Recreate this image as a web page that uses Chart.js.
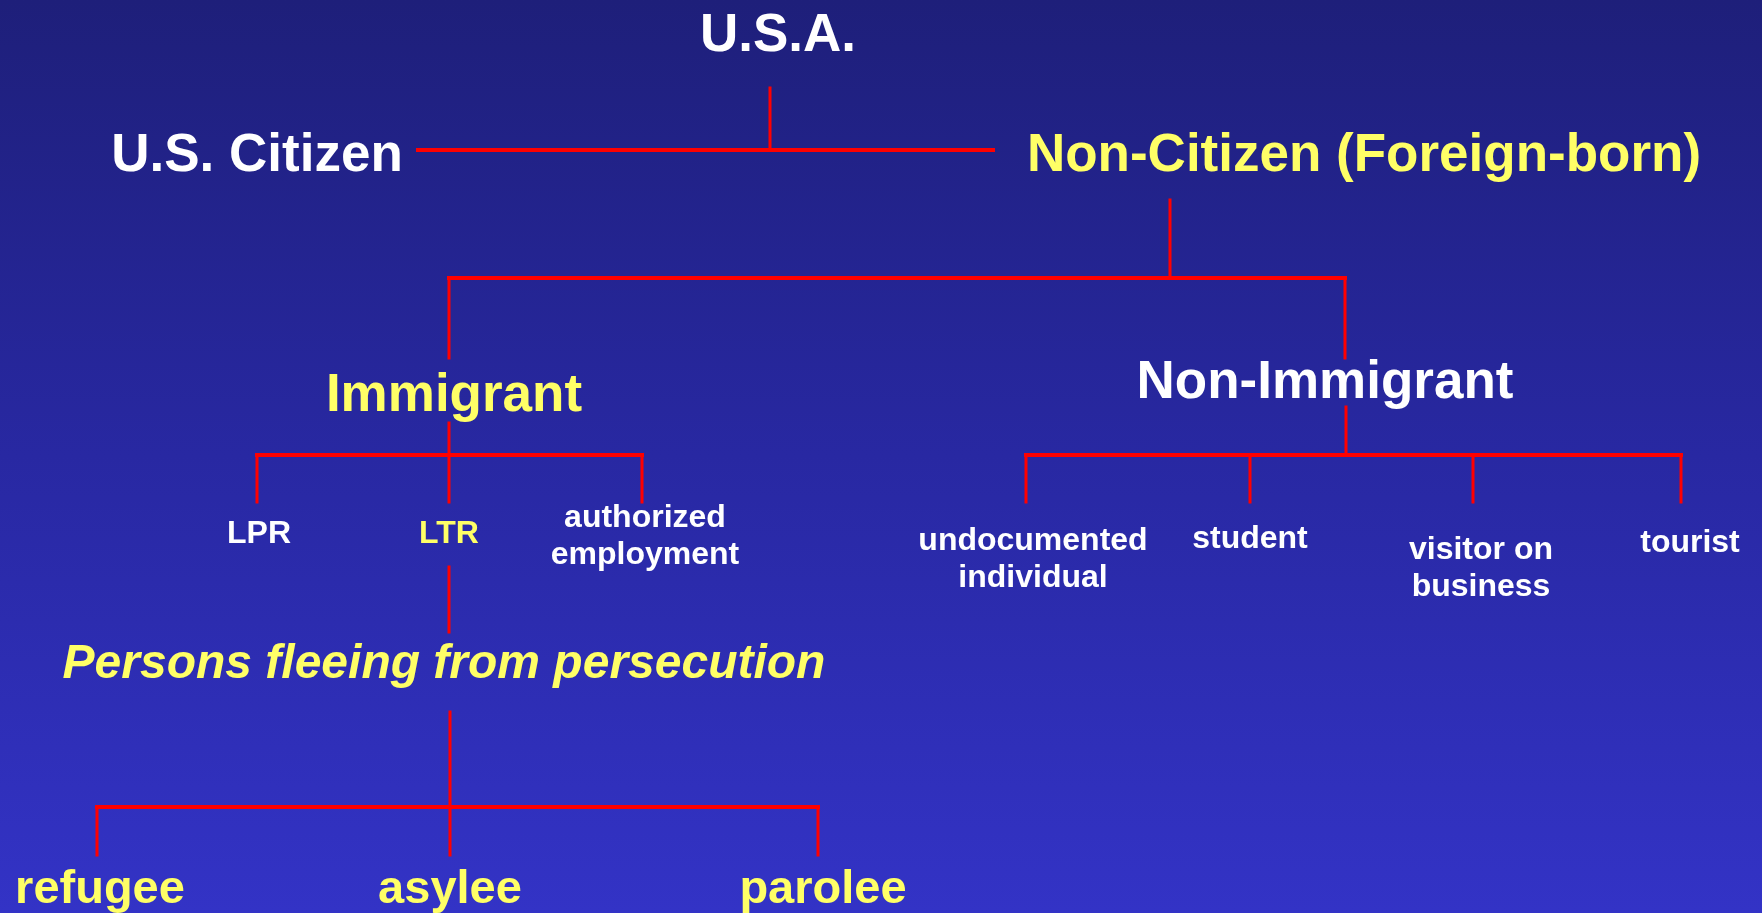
<!DOCTYPE html>
<html>
<head>
<meta charset="utf-8">
<title>U.S.A. population tree</title>
<script src="https://cdn.jsdelivr.net/npm/chart.js@4/dist/chart.umd.min.js"></script>
<style>
  html, body { margin: 0; padding: 0; overflow: hidden; }
  body { width: 1762px; height: 913px; background: linear-gradient(to bottom, #1e1f7a 0%, #2828a2 50%, #3333c6 100%); }
  #tree { display: block; }
</style>
</head>
<body>
<canvas id="tree" width="1762" height="913"></canvas>
<script>
// Tree nodes: label text, centre x, baseline y (page units, y grows downward)
const nodeLabels = [
  'U.S.A.', 'U.S. Citizen', 'Non-Citizen (Foreign-born)',
  'Immigrant', 'Non-Immigrant',
  'LPR', 'LTR', 'authorized\nemployment',
  'undocumented\nindividual', 'student', 'visitor on\nbusiness', 'tourist',
  'Persons fleeing from persecution',
  'refugee', 'asylee', 'parolee'
];
const nodeX = [778, 257, 1364, 454, 1325, 259, 449, 645, 1033, 1250, 1481, 1690, 444, 100, 450, 823];
const nodeY = [51, 171, 171, 411, 398, 543, 543, 527, 550, 548, 559, 552, 678, 903, 903, 903];
const nodeYellow = [false, false, true, true, false, false, true, false, false, false, false, false, true, true, true, true];
const nodeTier = ['big', 'big', 'big', 'big', 'big', 'small', 'small', 'small', 'small', 'small', 'small', 'small', 'italic', 'leaf', 'leaf', 'leaf'];

// Connector segments [x1, y1, x2, y2]
const hSegments = [
  [418, 150, 993, 150],
  [449, 278, 1345, 278],
  [257, 455, 642, 455],
  [1026, 455, 1681, 455],
  [97, 807, 818, 807]
];
const vSegments = [
  [770, 88, 770, 150],
  [1170, 200, 1170, 278],
  [449, 278, 449, 358],
  [1345, 278, 1345, 358],
  [449, 423, 449, 455],
  [257, 455, 257, 502], [449, 455, 449, 502], [642, 455, 642, 502],
  [1346, 407, 1346, 455],
  [1026, 455, 1026, 502], [1250, 455, 1250, 502], [1473, 455, 1473, 502], [1681, 455, 1681, 502],
  [449, 567, 449, 632],
  [450, 712, 450, 807],
  [97, 807, 97, 855], [450, 807, 450, 855], [818, 807, 818, 855]
];

const FONT = '"Liberation Sans", Arial, sans-serif';
const tierFont = {
  big: 'bold 53px ' + FONT,
  small: 'bold 32px ' + FONT,
  italic: 'italic bold 48px ' + FONT,
  leaf: 'bold 47px ' + FONT
};
const LINE_GAP = 37;

function segmentDataset(seg, width) {
  return {
    data: [{ x: seg[0], y: seg[1] }, { x: seg[2], y: seg[3] }],
    showLine: true,
    borderColor: '#ff0000',
    borderWidth: width,
    borderCapStyle: 'square',
    pointRadius: 0,
    clip: false
  };
}

const nodeLabelPlugin = {
  id: 'nodeLabels',
  afterDatasetsDraw(chart) {
    const ctx = chart.ctx;
    const xs = chart.scales.x;
    const ys = chart.scales.y;
    ctx.save();
    ctx.textAlign = 'center';
    ctx.textBaseline = 'alphabetic';
    nodeLabels.forEach((label, i) => {
      ctx.font = tierFont[nodeTier[i]];
      ctx.fillStyle = nodeYellow[i] ? '#ffff66' : '#ffffff';
      const px = xs.getPixelForValue(nodeX[i]);
      label.split('\n').forEach((line, j) => {
        const py = ys.getPixelForValue(nodeY[i] + j * LINE_GAP);
        ctx.fillText(line, px, py);
      });
    });
    ctx.restore();
  }
};

function drawTree() {
  const datasets = [
    ...hSegments.map(s => segmentDataset(s, 4)),
    ...vSegments.map(s => segmentDataset(s, 3))
  ];
  new Chart(document.getElementById('tree'), {
    type: 'scatter',
    data: { datasets },
    options: {
      responsive: false,
      animation: false,
      events: [],
      devicePixelRatio: 1,
      layout: { padding: 0 },
      plugins: { legend: { display: false }, tooltip: { enabled: false } },
      scales: {
        x: { type: 'linear', min: 0, max: 1762, display: false },
        y: { type: 'linear', min: 0, max: 913, reverse: true, display: false }
      }
    },
    plugins: [nodeLabelPlugin]
  });
}

document.addEventListener('DOMContentLoaded', drawTree);
</script>
</body>
</html>
